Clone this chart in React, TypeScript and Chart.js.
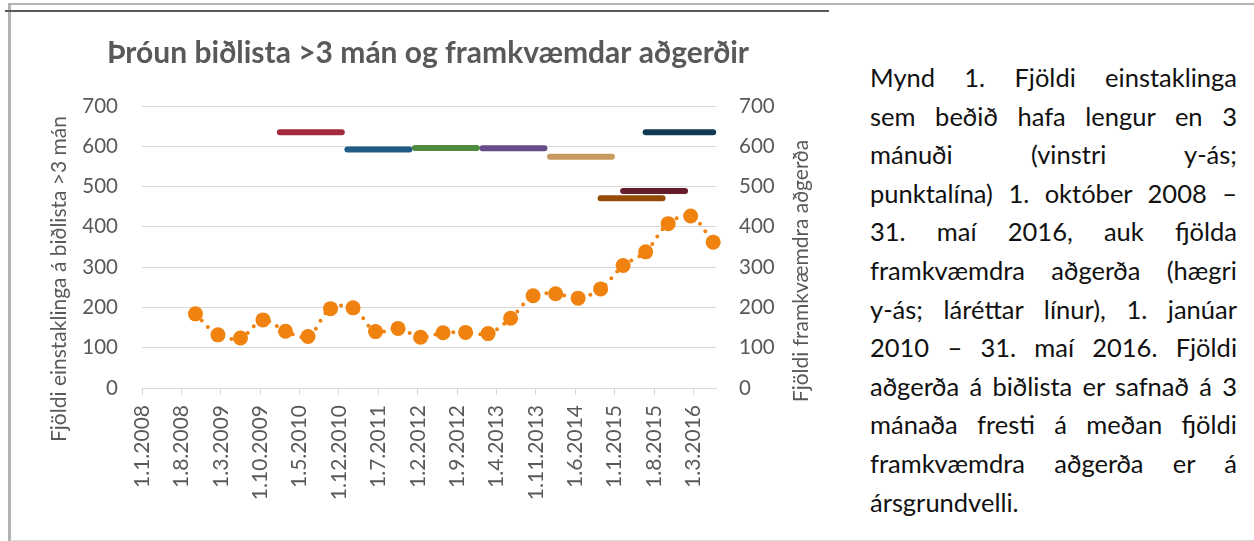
import React, { useEffect, useRef } from 'react';
import { Chart, registerables } from 'chart.js';

Chart.register(...registerables);

const CHART_TITLE = 'Þróun biðlista >3 mán og framkvæmdar aðgerðir';
const LEFT_TITLE = 'Fjöldi einstaklinga á biðlista >3 mán';
const RIGHT_TITLE = 'Fjöldi framkvæmdra aðgerða';

const xTickLabels = [
  '1.1.2008', '1.8.2008', '1.3.2009', '1.10.2009', '1.5.2010', '1.12.2010', '1.7.2011',
  '1.2.2012', '1.9.2012', '1.4.2013', '1.11.2013', '1.6.2014', '1.1.2015', '1.8.2015', '1.3.2016',
];
const yTicks = [0, 100, 200, 300, 400, 500, 600, 700];

// waiting list (>3 months), left axis
const waitMonths = [
  '10.2008', '2.2009', '6.2009', '10.2009', '2.2010', '6.2010', '10.2010', '2.2011',
  '6.2011', '10.2011', '2.2012', '6.2012', '10.2012', '2.2013', '6.2013', '10.2013',
  '2.2014', '6.2014', '10.2014', '2.2015', '6.2015', '10.2015', '2.2016', '6.2016',
];
const waitValues = [
  184, 132, 124, 169, 141, 128, 197, 199, 140, 148, 126, 137, 138, 135, 173, 229,
  234, 223, 246, 304, 338, 408, 427, 362,
];

// performed operations per year, right axis
const opStart = ['1.2010', '1.2011', '1.2012', '1.2013', '1.2014', '10.2014', '2.2015', '6.2015'];
const opEnd = ['12.2010', '12.2011', '12.2012', '12.2013', '12.2014', '9.2015', '1.2016', '6.2016'];
const opValues = [635, 592, 596, 595, 574, 471, 489, 635];
const opColors = ['#A32A3B', '#1F5B85', '#4F8A41', '#684C89', '#C89A5E', '#954A06', '#661D2B', '#103A52'];

const CAPTION_LINES = [
  'Mynd 1. Fjöldi einstaklinga',
  'sem beðið hafa lengur en 3',
  'mánuði (vinstri y-ás;',
  'punktalína) 1. október 2008 –',
  '31. maí 2016, auk fjölda',
  'framkvæmdra aðgerða (hægri',
  'y-ás; láréttar línur), 1. janúar',
  '2010 – 31. maí 2016. Fjöldi',
  'aðgerða á biðlista er safnað á 3',
  'mánaða fresti á meðan fjöldi',
  'framkvæmdra aðgerða er á',
  'ársgrundvelli.',
];

const BASE_YEAR = 2008;
const monthCenter = (s: string) => {
  const [m, y] = s.split('.').map(Number);
  return (y - BASE_YEAR) * 12 + (m - 1) + 0.5;
};
const tickMonth = (s: string) => {
  const [, m, y] = s.split('.').map(Number);
  return (y - BASE_YEAR) * 12 + (m - 1);
};
const monthLabel = (v: number) => {
  const y = BASE_YEAR + Math.floor(v / 12);
  const m = (Math.round(v) % 12) + 1;
  return `1.${m}.${y}`;
};

const GRAY = '#595959';
const FONT = 'Lato';
const ORANGE = '#F0820F';

const textPlugin = {
  id: 'customTexts',
  afterDraw(chart: any) {
    const { ctx, chartArea } = chart;
    ctx.save();
    ctx.fillStyle = GRAY;
    ctx.textAlign = 'center';
    ctx.font = `bold 30px ${FONT}`;
    ctx.textBaseline = 'alphabetic';
    ctx.fillText(CHART_TITLE, chartArea.left + 286, chartArea.top - 43);

    ctx.font = `21px ${FONT}`;
    ctx.textBaseline = 'middle';
    ctx.save();
    ctx.translate(chartArea.left - 83, chartArea.top + 173);
    ctx.rotate(-Math.PI / 2);
    ctx.fillText(LEFT_TITLE, 0, 0);
    ctx.restore();
    ctx.save();
    ctx.translate(chartArea.right + 85, chartArea.top + 165);
    ctx.rotate(-Math.PI / 2);
    ctx.fillText(RIGHT_TITLE, 0, 0);
    ctx.restore();
    ctx.restore();
  },
};

export default function App() {
  const canvasRef = useRef<HTMLCanvasElement | null>(null);

  useEffect(() => {
    if (!canvasRef.current) return;
    const opDatasets = opValues.map((v, i) => ({
      type: 'line' as const,
      data: [
        { x: monthCenter(opStart[i]), y: v },
        { x: monthCenter(opEnd[i]), y: v },
      ],
      yAxisID: 'y1',
      borderColor: opColors[i],
      borderWidth: 6,
      borderCapStyle: 'round' as const,
      pointRadius: 0,
      fill: false,
      clip: false,
    }));
    const chart = new Chart(canvasRef.current, {
      type: 'line',
      data: {
        datasets: [
          ...opDatasets,
          {
            type: 'line',
            data: waitMonths.map((m, i) => ({ x: monthCenter(m), y: waitValues[i] })),
            yAxisID: 'y',
            borderColor: ORANGE,
            borderWidth: 4,
            borderDash: [0, 9],
            borderCapStyle: 'round',
            tension: 0.35,
            pointRadius: 7.5,
            pointHoverRadius: 7.5,
            pointBackgroundColor: ORANGE,
            pointBorderWidth: 0,
            fill: false,
            clip: false,
          },
        ] as any,
      },
      options: {
        animation: false,
        responsive: false,
        maintainAspectRatio: false,
        layout: { padding: { top: 93, left: 0, right: 0, bottom: 0 } },
        plugins: {
          legend: { display: false },
          title: { display: false },
          tooltip: { enabled: false },
        },
        scales: {
          x: {
            type: 'linear',
            min: 0,
            max: 102,
            afterBuildTicks: (scale: any) => {
              scale.ticks = xTickLabels.map((l) => ({ value: tickMonth(l) }));
            },
            afterFit: (scale: any) => {
              scale.height = 151;
            },
            ticks: {
              autoSkip: false,
              maxRotation: 90,
              minRotation: 90,
              padding: 10,
              color: GRAY,
              font: { family: FONT, size: 21 },
              callback: (v: any) => monthLabel(Number(v)),
            },
            grid: {
              drawOnChartArea: false,
              drawTicks: true,
              tickLength: 7,
              color: '#D9D9D9',
              lineWidth: 1,
            },
            border: { display: true, color: '#D9D9D9', width: 1 },
          },
          y: {
            position: 'left',
            min: 0,
            max: 700,
            afterBuildTicks: (scale: any) => {
              scale.ticks = yTicks.map((v) => ({ value: v }));
            },
            afterFit: (scale: any) => {
              scale.width = 131;
            },
            ticks: {
              padding: 24,
              color: GRAY,
              font: { family: FONT, size: 20.5 },
            },
            grid: { color: '#D9D9D9', lineWidth: 1, drawTicks: false },
            border: { display: false },
          },
          y1: {
            position: 'right',
            min: 0,
            max: 700,
            afterBuildTicks: (scale: any) => {
              scale.ticks = yTicks.map((v) => ({ value: v }));
            },
            afterFit: (scale: any) => {
              scale.width = 113;
            },
            ticks: {
              padding: 23,
              color: GRAY,
              font: { family: FONT, size: 20.5 },
            },
            grid: { display: false, drawTicks: false },
            border: { display: false },
          },
        },
      } as any,
      plugins: [textPlugin],
    });
    return () => chart.destroy();
  }, []);

  return (
    <div
      style={{
        position: 'absolute',
        left: 0,
        top: 0,
        width: 1254,
        height: 541,
        background: '#fff',
        overflow: 'hidden',
      }}
    >
      <div style={{ position: 'absolute', left: 8, top: 3, width: 1246, height: 2, background: '#B3B3B3' }} />
      <div style={{ position: 'absolute', left: 8, top: 3, width: 3, height: 538, background: '#B3B3B3' }} />
      <div style={{ position: 'absolute', left: 10, top: 540, width: 1244, height: 1, background: '#DADADA' }} />
      <div style={{ position: 'absolute', left: 5, top: 10, width: 824, height: 2, background: '#595959' }} />
      <canvas
        ref={canvasRef}
        width={818}
        height={526}
        style={{ position: 'absolute', left: 11, top: 13, width: 818, height: 526 }}
      />
      <div
        style={{
          position: 'absolute',
          left: 870,
          top: 58,
          width: 367,
          fontFamily: FONT,
          fontSize: 25.5,
          color: '#111',
        }}
      >
        {CAPTION_LINES.map((line, i) => (
          <div
            key={i}
            style={{
              height: 38.6,
              lineHeight: '38.6px',
              whiteSpace: 'nowrap',
              textAlign: i === CAPTION_LINES.length - 1 ? 'left' : 'justify',
              textAlignLast: i === CAPTION_LINES.length - 1 ? 'left' : 'justify',
            } as any}
          >
            {line}
          </div>
        ))}
      </div>
    </div>
  );
}
